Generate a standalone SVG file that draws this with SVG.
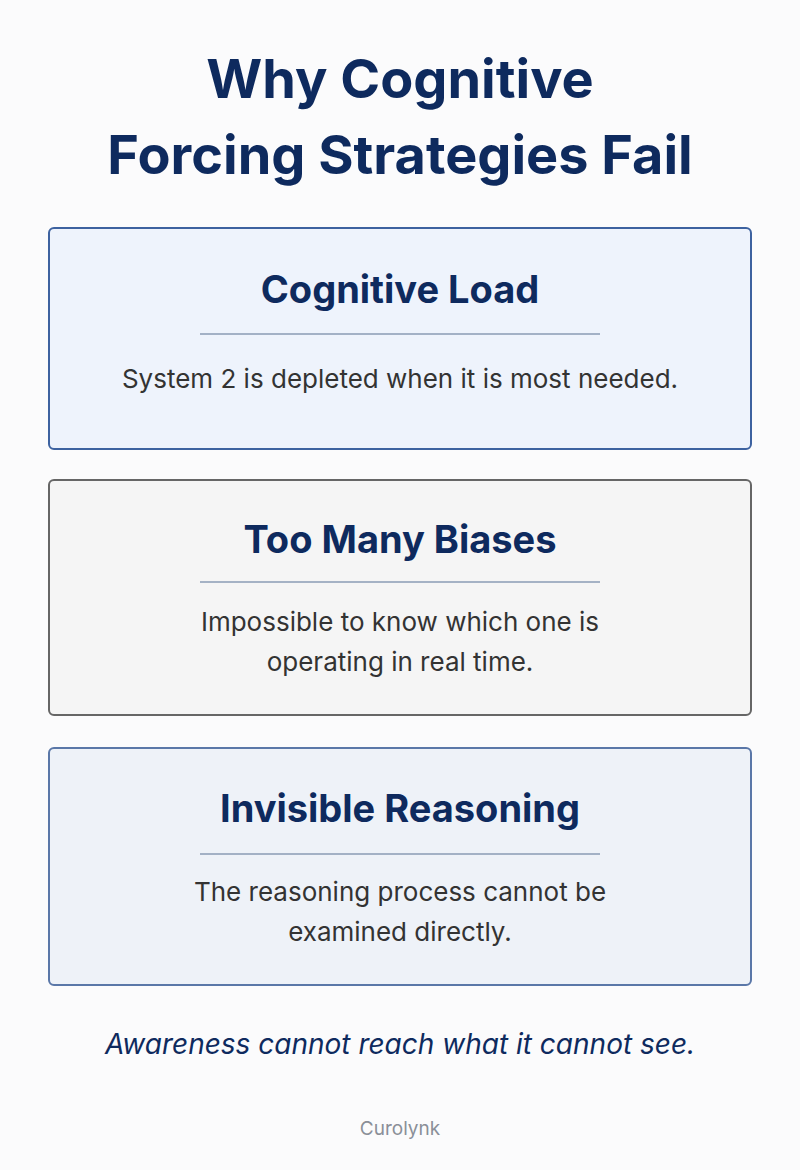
<svg xmlns="http://www.w3.org/2000/svg" width="800" height="1170" viewBox="0 0 800 1170">
<style>
.t{font-family:Inter,"Noto Sans",sans-serif;font-weight:700;fill:#0e2a5e;text-anchor:middle}
.h{font-family:Inter,"Noto Sans",sans-serif;font-weight:700;fill:#0e2a5e;text-anchor:middle;font-size:38px}
.b{font-family:Inter,"Noto Sans",sans-serif;fill:#333;text-anchor:middle;font-size:26px}
.d{stroke:#8a9bb5;stroke-width:1.5}
</style>
<rect width="800" height="1170" fill="#fbfbfc"/>
<text class="t" x="400" y="98" font-size="54">Why Cognitive</text>
<text class="t" x="400" y="174" font-size="54">Forcing Strategies Fail</text>
<g id="n1">
<rect x="49" y="228" width="702" height="221" rx="5" fill="#eef3fc" stroke="#3d62a0" stroke-width="2"/>
<text class="h" x="400" y="303">Cognitive Load</text>
<line class="d" x1="200" y1="334" x2="600" y2="334"/>
<text class="b" x="400" y="388">System 2 is depleted when it is most needed.</text>
</g>
<g id="n2">
<rect x="49" y="480" width="702" height="235" rx="5" fill="#f5f5f5" stroke="#666" stroke-width="2"/>
<text class="h" x="400" y="553">Too Many Biases</text>
<line class="d" x1="200" y1="582" x2="600" y2="582" stroke="#999"/>
<text class="b" x="400" y="631">Impossible to know which one is</text>
<text class="b" x="400" y="671">operating in real time.</text>
</g>
<g id="n3">
<rect x="49" y="748" width="702" height="237" rx="5" fill="#eef2f8" stroke="#5a77a8" stroke-width="2"/>
<text class="h" x="400" y="822">Invisible Reasoning</text>
<line class="d" x1="200" y1="854" x2="600" y2="854"/>
<text class="b" x="400" y="901">The reasoning process cannot be</text>
<text class="b" x="400" y="941">examined directly.</text>
</g>
<g id="connectors"/>
<text x="400" y="1054" font-family="Inter,'Noto Sans',sans-serif" font-style="italic" font-size="28" fill="#0e2a5e" text-anchor="middle">Awareness cannot reach what it cannot see.</text>
<text x="400" y="1135" font-family="Inter,'Noto Sans',sans-serif" font-size="19" fill="#8a8f98" text-anchor="middle">Curolynk</text>
</svg>
